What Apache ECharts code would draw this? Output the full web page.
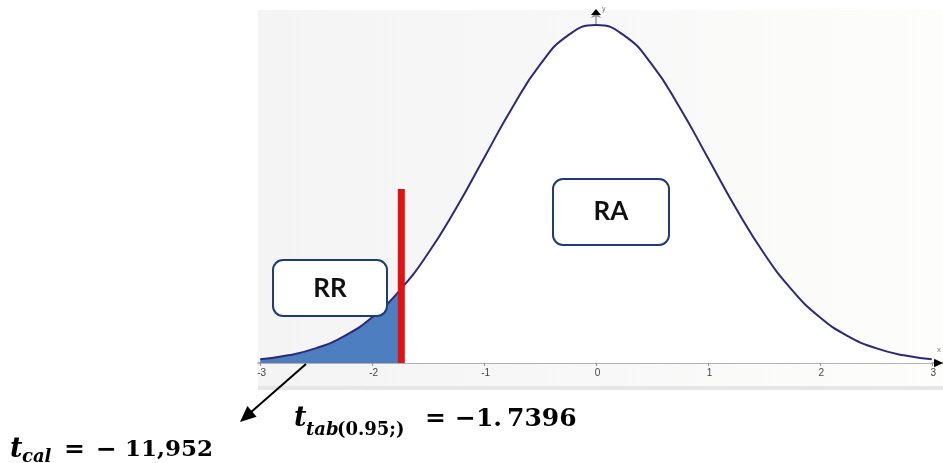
<!DOCTYPE html>
<html>
<head>
<meta charset="utf-8">
<script src="https://cdn.jsdelivr.net/npm/echarts@6/dist/echarts.min.js"></script>
<style>html,body{margin:0;padding:0;background:#fff}#c{width:943px;height:463px}</style>
</head>
<body>
<div id="c"></div>
<script>
// ---- data ----
var curveX = [-3, -2.75, -2.5, -2.25, -2, -1.75, -1.5, -1.25, -1, -0.75, -0.5, -0.25, 0, 0.25, 0.5, 0.75, 1, 1.25, 1.5, 1.75, 2, 2.25, 2.5, 2.75, 3];
var curveY = [0.0044, 0.0091, 0.0175, 0.0317, 0.054, 0.0863, 0.1295, 0.1826, 0.242, 0.3011, 0.3521, 0.3867, 0.3989, 0.3867, 0.3521, 0.3011, 0.242, 0.1826, 0.1295, 0.0863, 0.054, 0.0317, 0.0175, 0.0091, 0.0044];
var tailX = [-3, -2.75, -2.5, -2.25, -2, -1.7396];
var tailY = [0.0044, 0.0091, 0.0175, 0.0317, 0.054, 0.088];
var tCrit = -1.7396;
var critLineTop = 0.2054;
var tickValues = [-3, -2, -1, 0, 1, 2, 3];
var tickLabels = ['-3', '-2', '-1', '0', '1', '2', '3'];
var regionLabels = ['RR', 'RA'];

function pairs(xs, ys) { return xs.map(function (x, i) { return [x, ys[i]]; }); }

var chart = echarts.init(document.getElementById('c'), null, {renderer: 'canvas'});

var serif = "DejaVu Serif";
var sans = "Lato";

function txt(t, x, y, size, italic) {
  var s = {text: t, x: x, y: y, verticalAlign: 'middle', fontSize: size, fontWeight: 'bold',
    fontStyle: italic ? 'italic' : 'normal', fill: '#000', fontFamily: serif};
  return {type: 'text', z: 100, style: s};
}

var option = {
  backgroundColor: '#ffffff',
  animation: false,
  grid: {left: 258, right: 0, top: 12, bottom: 100, containLabel: false},
  xAxis: {
    type: 'value', min: -3.02, max: 3.1,
    axisLine: {show: true, onZero: true, symbol: ['none', 'arrow'], symbolSize: [7, 9],
      lineStyle: {color: '#9a9a9a', width: 1.5}},
    axisTick: {show: true, length: 3, customValues: tickValues, lineStyle: {color: '#8a8a8a'}},
    axisLabel: {show: true, customValues: tickValues, margin: 5, fontSize: 10, color: '#444',
      padding: [0, 0, 0, 3],
      fontFamily: 'Liberation Sans', formatter: function (v) { var i = tickValues.indexOf(v); return i >= 0 ? tickLabels[i] : ''; }},
    splitLine: {show: false}
  },
  yAxis: {
    type: 'value', min: 0, max: 0.4143,
    axisLine: {show: true, onZero: true, symbol: ['none', 'arrow'], symbolSize: [8, 6],
      lineStyle: {color: '#9a9a9a', width: 1.5}},
    axisTick: {show: false}, axisLabel: {show: false}, splitLine: {show: false}
  },
  series: [
    {type: 'line', data: pairs(curveX, curveY), smooth: true, symbol: 'none', z: 1,
      lineStyle: {width: 0}, areaStyle: {color: '#ffffff', opacity: 1}},
    {type: 'line', data: pairs(tailX, tailY), smooth: true, symbol: 'none', z: 3,
      lineStyle: {width: 0}, areaStyle: {color: '#4d7fc0', opacity: 1}},
    {type: 'line', data: pairs(curveX, curveY), smooth: true, symbol: 'none', z: 4,
      lineStyle: {color: '#2c2a78', width: 2}},
    {type: 'line', data: [[tCrit, 0], [tCrit, critLineTop]], symbol: 'none', z: 5,
      lineStyle: {color: '#e31212', width: 7, cap: 'butt'}}
  ],
  graphic: [
    {type: 'rect', z: -10, silent: true, shape: {x: 258, y: 10, width: 685, height: 380},
      style: {fill: {type: 'linear', x: 0, y: 0, x2: 1, y2: 0,
        colorStops: [{offset: 0, color: '#f4f4f4'}, {offset: 0.5, color: '#f8f8f8'}, {offset: 1, color: '#fdfdfb'}]}}},
    {type: 'rect', z: -9, silent: true, shape: {x: 258, y: 386, width: 685, height: 4}, style: {fill: '#e6e6e6'}},
    {type: 'text', z: 50, style: {text: 'x', x: 937, y: 346, fontSize: 8, fill: '#777', fontFamily: 'Liberation Sans'}},
    {type: 'text', z: 50, style: {text: 'y', x: 602, y: 6, fontSize: 7, fill: '#777', fontFamily: 'Liberation Sans'}},
    // black arrow heads as in the reference
    {type: 'polygon', z: 60, shape: {points: [[943, 363], [934, 359], [934, 367]]}, style: {fill: '#000'}},
    {type: 'polygon', z: 60, shape: {points: [[596, 9], [591, 15], [601, 15]]}, style: {fill: '#000'}},
    // RR box
    {type: 'rect', z: 100, shape: {x: 273, y: 260, width: 114, height: 56, r: 10},
      style: {fill: '#ffffff', stroke: '#1f3b78', lineWidth: 2}},
    {type: 'text', z: 101, style: {text: regionLabels[0], x: 330, y: 289, align: 'center', verticalAlign: 'middle',
      fontSize: 26, fontWeight: 'bold', fill: '#111', fontFamily: sans}},
    // RA box
    {type: 'rect', z: 100, shape: {x: 553, y: 179, width: 116, height: 66, r: 10},
      style: {fill: '#ffffff', stroke: '#1f3b78', lineWidth: 2}},
    {type: 'text', z: 101, style: {text: regionLabels[1], x: 611, y: 212, align: 'center', verticalAlign: 'middle',
      fontSize: 26, fontWeight: 'bold', fill: '#111', fontFamily: sans}},
    // arrow
    {type: 'line', z: 100, shape: {x1: 306, y1: 364, x2: 250, y2: 413}, style: {stroke: '#000', lineWidth: 2}},
    {type: 'polygon', z: 100, shape: {points: [[240, 422], [256.6, 416.7], [247.4, 406.1]]}, style: {fill: '#000'}},
    // t_tab text
    txt('t', 294, 419, 27, true),
    txt('tab', 306, 430, 18, true),
    txt('(0.95;)', 337, 430, 18, false),
    txt('=', 425, 419, 25, false),
    txt('\u22121.', 455, 419, 25, false),
    txt('7396', 507, 419, 25, false),
    // t_cal text
    txt('t', 10, 450, 27, true),
    txt('cal', 22, 457, 18, true),
    txt('=', 64, 450, 25, false),
    txt('\u2212', 96, 450, 25, false),
    txt('11,952', 125, 450, 23, false)
  ]
};
chart.setOption(option);
</script>
</body>
</html>
